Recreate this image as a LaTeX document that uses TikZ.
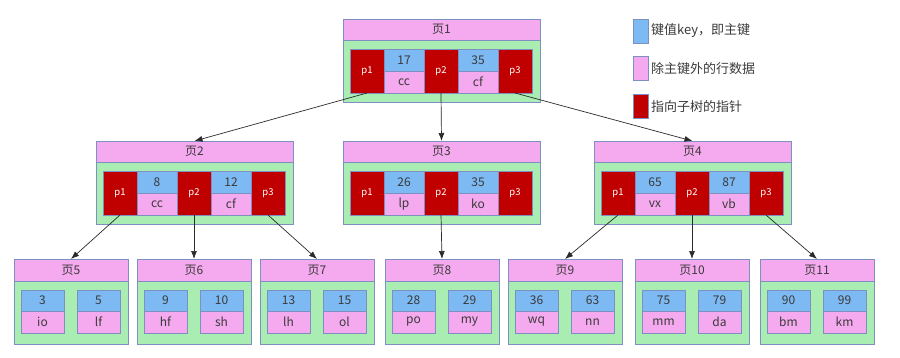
\documentclass[tikz,border=0pt]{standalone}
\usepackage{fontspec}
\setmainfont{Noto Sans CJK SC}
\usetikzlibrary{arrows.meta, positioning, calc}

\definecolor{pagepink}{HTML}{F5A9EE}
\definecolor{pagegreen}{HTML}{A9EDB3}
\definecolor{keyblue}{HTML}{7DB9F2}
\definecolor{ptrred}{HTML}{C00000}
\definecolor{edgegray}{HTML}{7E8FC2}
\definecolor{textgray}{HTML}{3A3A3A}
\definecolor{linegray}{HTML}{2A2A2A}

% internal page: name, x, y, title, key1, val1, key2, val2
\newcommand{\innerpage}[8]{%
  \node[titlebar, minimum width=197pt, anchor=north west] (#1) at (#2,-#3) {#4};
  \node[pagebody, minimum width=197pt, minimum height=62pt, below=0pt of #1] (#1body) {};
  \node[ptrcell, anchor=north west] (#1p1) at ($(#1body.north west)+(7,-9)$) {p1};
  \node[keycell, anchor=north west] (#1k1) at (#1p1.north east) {#5};
  \node[valcell, below=0pt of #1k1] (#1v1) {#6};
  \node[ptrcell, anchor=north west] (#1p2) at (#1k1.north east) {p2};
  \node[keycell, anchor=north west] (#1k2) at (#1p2.north east) {#7};
  \node[valcell, below=0pt of #1k2] (#1v2) {#8};
  \node[ptrcell, anchor=north west] (#1p3) at (#1k2.north east) {p3};
}

% leaf page: name, x, y, title, key1, val1, key2, val2
\newcommand{\leafpage}[8]{%
  \node[titlebar, minimum width=114pt, minimum height=22pt, anchor=north west] (#1) at (#2,-#3) {#4};
  \node[pagebody, minimum width=114pt, minimum height=63pt, below=0pt of #1] (#1body) {};
  \node[keycell, minimum width=43pt, minimum height=21pt, anchor=north west] (#1k1) at ($(#1body.north west)+(7,-9)$) {#5};
  \node[valcell, minimum width=43pt, below=0pt of #1k1] (#1v1) {#6};
  \node[keycell, minimum width=43pt, minimum height=21pt, anchor=north east] (#1k2) at ($(#1body.north east)+(-8,-9)$) {#7};
  \node[valcell, minimum width=43pt, below=0pt of #1k2] (#1v2) {#8};
}

\begin{document}
\begin{tikzpicture}[
    x=1pt, y=1pt,
    cell/.style={draw=edgegray, line width=0.8pt, inner sep=0pt, outer sep=0pt},
    titlebar/.style={cell, fill=pagepink, text=textgray, minimum height=21pt, font=\fontsize{12}{14}\selectfont},
    pagebody/.style={cell, fill=pagegreen},
    ptrcell/.style={cell, fill=ptrred, text=white, minimum width=34pt, minimum height=44pt, font=\fontsize{9.5}{10}\selectfont},
    keycell/.style={cell, fill=keyblue, text=textgray, minimum width=40pt, minimum height=22pt, font=\fontsize{12}{14}\selectfont},
    valcell/.style={cell, fill=pagepink, text=textgray, minimum width=40pt, minimum height=22pt, font=\fontsize{12}{14}\selectfont},
    legendbox/.style={cell, minimum width=15pt, minimum height=24pt},
    legendtext/.style={text=textgray, inner sep=0pt, font=\fontsize{13}{15}\selectfont},
    link/.style={-{Latex[length=8pt,width=6pt]}, line width=0.7pt, draw=linegray}
]
\useasboundingbox (0,0) rectangle (900,-357);

% Root page
\innerpage{pg1}{343}{19}{页1}{17}{cc}{35}{cf}

% Second level
\innerpage{pg2}{96}{141}{页2}{8}{cc}{12}{cf}
\innerpage{pg3}{343}{141}{页3}{26}{lp}{35}{ko}
\innerpage{pg4}{594}{141}{页4}{65}{vx}{87}{vb}

% Leaf pages
\leafpage{pg5}{14}{259}{页5}{3}{io}{5}{lf}
\leafpage{pg6}{137}{259}{页6}{9}{hf}{10}{sh}
\leafpage{pg7}{260}{259}{页7}{13}{lh}{15}{ol}
\leafpage{pg8}{385}{259}{页8}{28}{po}{29}{my}
\leafpage{pg9}{508}{259}{页9}{36}{wq}{63}{nn}
\leafpage{pg10}{635}{259}{页10}{75}{mm}{79}{da}
\leafpage{pg11}{760}{259}{页11}{90}{bm}{99}{km}

% Legend
\node[legendbox, fill=keyblue] (lgkey) at (640.5,-31) {};
\node[legendtext, anchor=west, right=3pt of lgkey] (lgkeytxt) {键值key，即主键};
\node[legendbox, fill=pagepink] (lgval) at (640.5,-68.5) {};
\node[legendtext, anchor=west, right=3pt of lgval] (lgvaltxt) {除主键外的行数据};
\node[legendbox, fill=ptrred] (lgptr) at (640.5,-106.5) {};
\node[legendtext, anchor=west, right=3pt of lgptr] (lgptrtxt) {指向子树的指针};

% Arrows
\draw[link] (pg1p1.south) -- (pg2.north);
\draw[link] (pg1p2.south) -- (pg3.north);
\draw[link] (pg1p3.south) -- (pg4.north);
\draw[link] (pg2p1.south) -- (pg5.north);
\draw[link] (pg2p2.south) -- (pg6.north);
\draw[link] (pg2p3.south) -- (pg7.north);
\draw[link] (pg3p2.south) -- (pg8.north);
\draw[link] (pg4p1.south) -- (pg9.north);
\draw[link] (pg4p2.south) -- (pg10.north);
\draw[link] (pg4p3.south) -- (pg11.north);

\end{tikzpicture}
\end{document}
